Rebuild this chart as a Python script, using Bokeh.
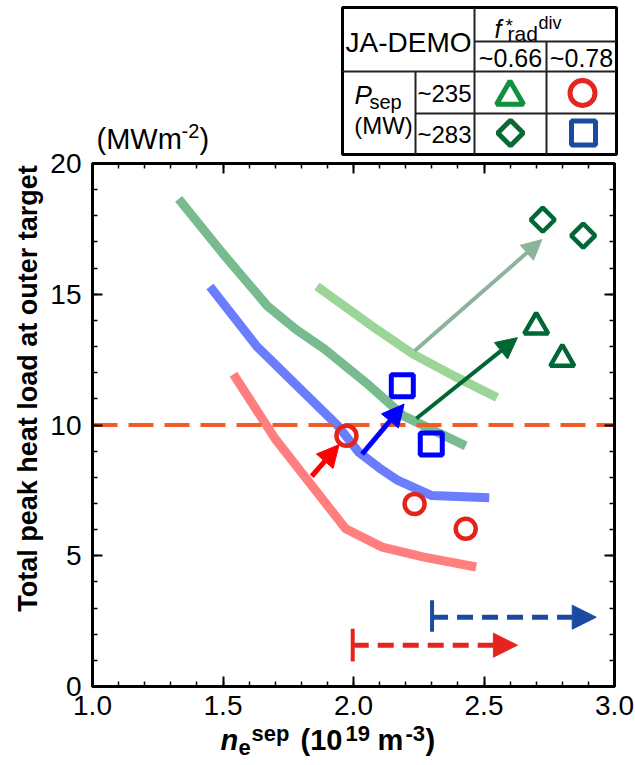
from math import pi
from bokeh.plotting import figure
from bokeh.models import (Range1d, LinearAxis, SingleIntervalTicker, PrintfTickFormatter,
                          Label, Arrow, NormalHead)
from bokeh.embed import file_html
from bokeh.resources import INLINE

FONT = "Liberation Sans"

# ---------------- data ----------------
green_mid_x = [1.33, 1.50, 1.67, 1.78, 1.89, 2.05, 2.19, 2.33, 2.43]
green_mid_y = [18.65, 16.55, 14.55, 13.65, 12.9, 11.6, 10.36, 9.68, 9.2]
light_green_x = [1.86, 2.09, 2.23, 2.39, 2.55]
light_green_y = [15.3, 13.65, 12.7, 11.85, 11.05]
blue_x = [1.45, 1.63, 1.94, 2.02, 2.10, 2.17, 2.30, 2.52]
blue_y = [15.3, 13.0, 9.97, 8.96, 8.35, 7.88, 7.30, 7.22]
red_x = [1.54, 1.70, 1.81, 1.97, 2.11, 2.27, 2.47]
red_y = [11.94, 9.47, 8.07, 6.03, 5.33, 4.95, 4.57]

circle_x = [1.973, 2.234, 2.430]
circle_y = [9.59, 6.98, 6.03]
square_x = [2.187, 2.298]
square_y = [11.5, 9.27]
diamond_x = [2.725, 2.880]
diamond_y = [17.85, 17.24]
triangle_x = [2.70, 2.80]
triangle_y = [13.76, 12.53]

limit_y = 10

# arrows: (x_start, y_start, x_end, y_end)
arrow_red = (1.840, 8.04, 1.945, 9.25)
arrow_blue = (2.033, 8.89, 2.194, 10.80)
arrow_dkgreen = (2.241, 10.25, 2.628, 13.34)
arrow_grgreen = (2.234, 12.83, 2.722, 17.09)

# density-range arrows at bottom: (x_start, x_end, y, bar_y0, bar_y1)
range_blue = (2.301, 2.93, 2.65, 2.09, 3.30)
range_red = (1.997, 2.628, 1.58, 0.96, 2.21)

x_ticks_interval = 0.5
y_ticks_interval = 5

# ---------------- main figure ----------------
p = figure(width=635, height=765, x_range=Range1d(1, 3), y_range=Range1d(0, 20),
           output_backend="svg", toolbar_location=None,
           min_border_left=92, min_border_right=21, min_border_top=163, min_border_bottom=79)
p.grid.visible = False
p.outline_line_color = "black"
p.outline_line_width = 3

p.add_layout(LinearAxis(), "above")
p.add_layout(LinearAxis(), "right")

for ax in p.xaxis:
    ax.ticker = SingleIntervalTicker(interval=x_ticks_interval, num_minor_ticks=5)
    ax.formatter = PrintfTickFormatter(format="%.1f")
for ax in p.yaxis:
    ax.ticker = SingleIntervalTicker(interval=y_ticks_interval, num_minor_ticks=5)
for ax in p.axis:
    ax.major_tick_in = 10
    ax.major_tick_out = 0
    ax.minor_tick_in = 5
    ax.minor_tick_out = 0
    ax.axis_line_width = 3
    ax.major_tick_line_width = 2
    ax.minor_tick_line_width = 1.5
    ax.major_label_text_font = FONT
    ax.major_label_text_font_size = "28px"
    ax.major_label_text_color = "black"
for ax in (p.above[0], p.right[0]):
    ax.major_label_text_font_size = "1px"
    ax.major_label_text_color = None
    ax.major_label_standoff = 0
p.below[0].major_label_standoff = 9
p.left[0].major_label_standoff = 11

# curves
p.line(green_mid_x, green_mid_y, line_color="#78bb8e", line_width=9, line_join="round")
p.line(light_green_x, light_green_y, line_color="#9bd598", line_width=9, line_join="round")
p.line(blue_x, blue_y, line_color="#6a7dff", line_width=9, line_join="round")
p.line(red_x, red_y, line_color="#ff7f7f", line_width=9, line_join="round")

# heat-load limit
p.segment(x0=[1], y0=[limit_y], x1=[3], y1=[limit_y], line_color="#f15a29",
          line_width=4, line_dash="25 11")

# arrows in the plot
def add_arrow(a, color, lw, hs):
    p.add_layout(Arrow(x_start=a[0], y_start=a[1], x_end=a[2], y_end=a[3],
                       line_color=color, line_width=lw,
                       end=NormalHead(size=hs, fill_color=color, line_color=color, line_width=1)))

add_arrow(arrow_grgreen, "#8cb49c", 4, 20)
add_arrow(arrow_dkgreen, "#006633", 4, 21)
add_arrow(arrow_red, "#ff0000", 5, 22)
add_arrow(arrow_blue, "#0000ff", 5, 22)

# markers
p.scatter(circle_x, circle_y, marker="circle", size=20, fill_color=None,
          line_color="#e3241b", line_width=4.5)
p.scatter(square_x, square_y, marker="square", size=22, fill_color=None,
          line_color="#0000ff", line_width=5)
p.scatter(diamond_x, diamond_y, marker="square", angle=pi / 4, size=17, fill_color=None,
          line_color="#006837", line_width=4.5)
p.scatter(triangle_x, triangle_y, marker="triangle", size=24, fill_color=None,
          line_color="#006837", line_width=4.5)

# density ranges at the bottom
for r, color in [(range_blue, "#1b4aa0"), (range_red, "#e5251d")]:
    p.segment(x0=[r[0]], y0=[r[3]], x1=[r[0]], y1=[r[4]], line_color=color, line_width=4)
    p.add_layout(Arrow(x_start=r[0], y_start=r[2], x_end=r[1], y_end=r[2],
                       line_color=color, line_width=5, line_dash="16 9",
                       end=NormalHead(size=24, fill_color=color, line_color=color, line_width=1)))

# ---------------- transparent overlay (pixel space) for texts and the table ----------------
o = figure(width=635, height=765, x_range=Range1d(0, 635), y_range=Range1d(765, 0),
           output_backend="svg", toolbar_location=None, min_border=0,
           x_axis_type=None, y_axis_type=None)
o.grid.visible = False
o.outline_line_color = None
o.background_fill_color = None
o.border_fill_color = None

def tlabel(text, x, y, size, style="normal", align="left", angle=0):
    o.add_layout(Label(x=x, y=y, text=text, text_font=FONT, text_font_size=f"{size}px",
                       text_font_style=style, text_align=align, text_baseline="middle",
                       text_color="black", angle=angle))

# table frame
o.quad(left=[342], right=[616], top=[7], bottom=[154], fill_color=None,
       line_color="black", line_width=3)
o.segment(x0=[342, 474, 415], y0=[71, 41, 113], x1=[616, 616, 616], y1=[71, 41, 113],
          line_color="#222222", line_width=2)
o.segment(x0=[474, 546, 415], y0=[7, 41, 71], x1=[474, 546, 415], y1=[154, 154, 154],
          line_color="#222222", line_width=2)

tlabel("JA-DEMO", 408, 42, 28, align="center")
tlabel("f", 494, 28, 25, style="italic")
tlabel("*", 505, 25, 19)
tlabel("rad", 507, 33, 21)
tlabel("div", 538, 22, 18)
tlabel("~0.66", 510, 57, 25, align="center")
tlabel("~0.78", 581, 57, 25, align="center")
tlabel("P", 354, 94, 26, style="italic")
tlabel("sep", 369, 101, 20)
tlabel("(MW)", 383, 125, 24, align="center")
tlabel("~235", 444, 92.5, 24, align="center")
tlabel("~283", 444, 133.5, 24, align="center")

o.scatter(x=[509.5], y=[96], marker="triangle", size=27, fill_color=None,
          line_color="#11903f", line_width=5)
o.scatter(x=[582], y=[92.5], marker="circle", size=25, fill_color=None,
          line_color="#e3261f", line_width=5)
o.scatter(x=[510], y=[132.5], marker="square", angle=pi / 4, size=18, fill_color=None,
          line_color="#0b6a34", line_width=5)
o.scatter(x=[583], y=[132.5], marker="square", size=24, fill_color=None,
          line_color="#1b4aa0", line_width=5)

# unit label above the y axis
tlabel("(MWm", 96, 138, 29)
tlabel("-2", 181, 130, 20)
tlabel(")", 199, 138, 29)

# y axis title
tlabel("Total peak heat load at outer target", 27, 388, 27, style="bold",
       align="center", angle=pi / 2)

# x axis title, pieced for sub/superscripts
xl = [
    ("n", 220, 739, 29, "bold italic"),
    ("e", 238, 747, 22, "bold"),
    ("sep", 251, 733, 22, "bold"),
    ("(10", 300, 739, 29, "bold"),
    ("19", 345, 733, 22, "bold"),
    ("m", 377, 739, 29, "bold"),
    ("-3", 405, 733, 22, "bold"),
    (")", 425, 739, 29, "bold"),
]
for txt, px, py, sz, st in xl:
    tlabel(txt, px, py, sz, style=st)

p.styles = {"position": "absolute", "left": "0px", "top": "0px"}
o.styles = {"position": "absolute", "left": "0px", "top": "0px"}

open("out.html", "w").write(file_html([p, o], INLINE))
